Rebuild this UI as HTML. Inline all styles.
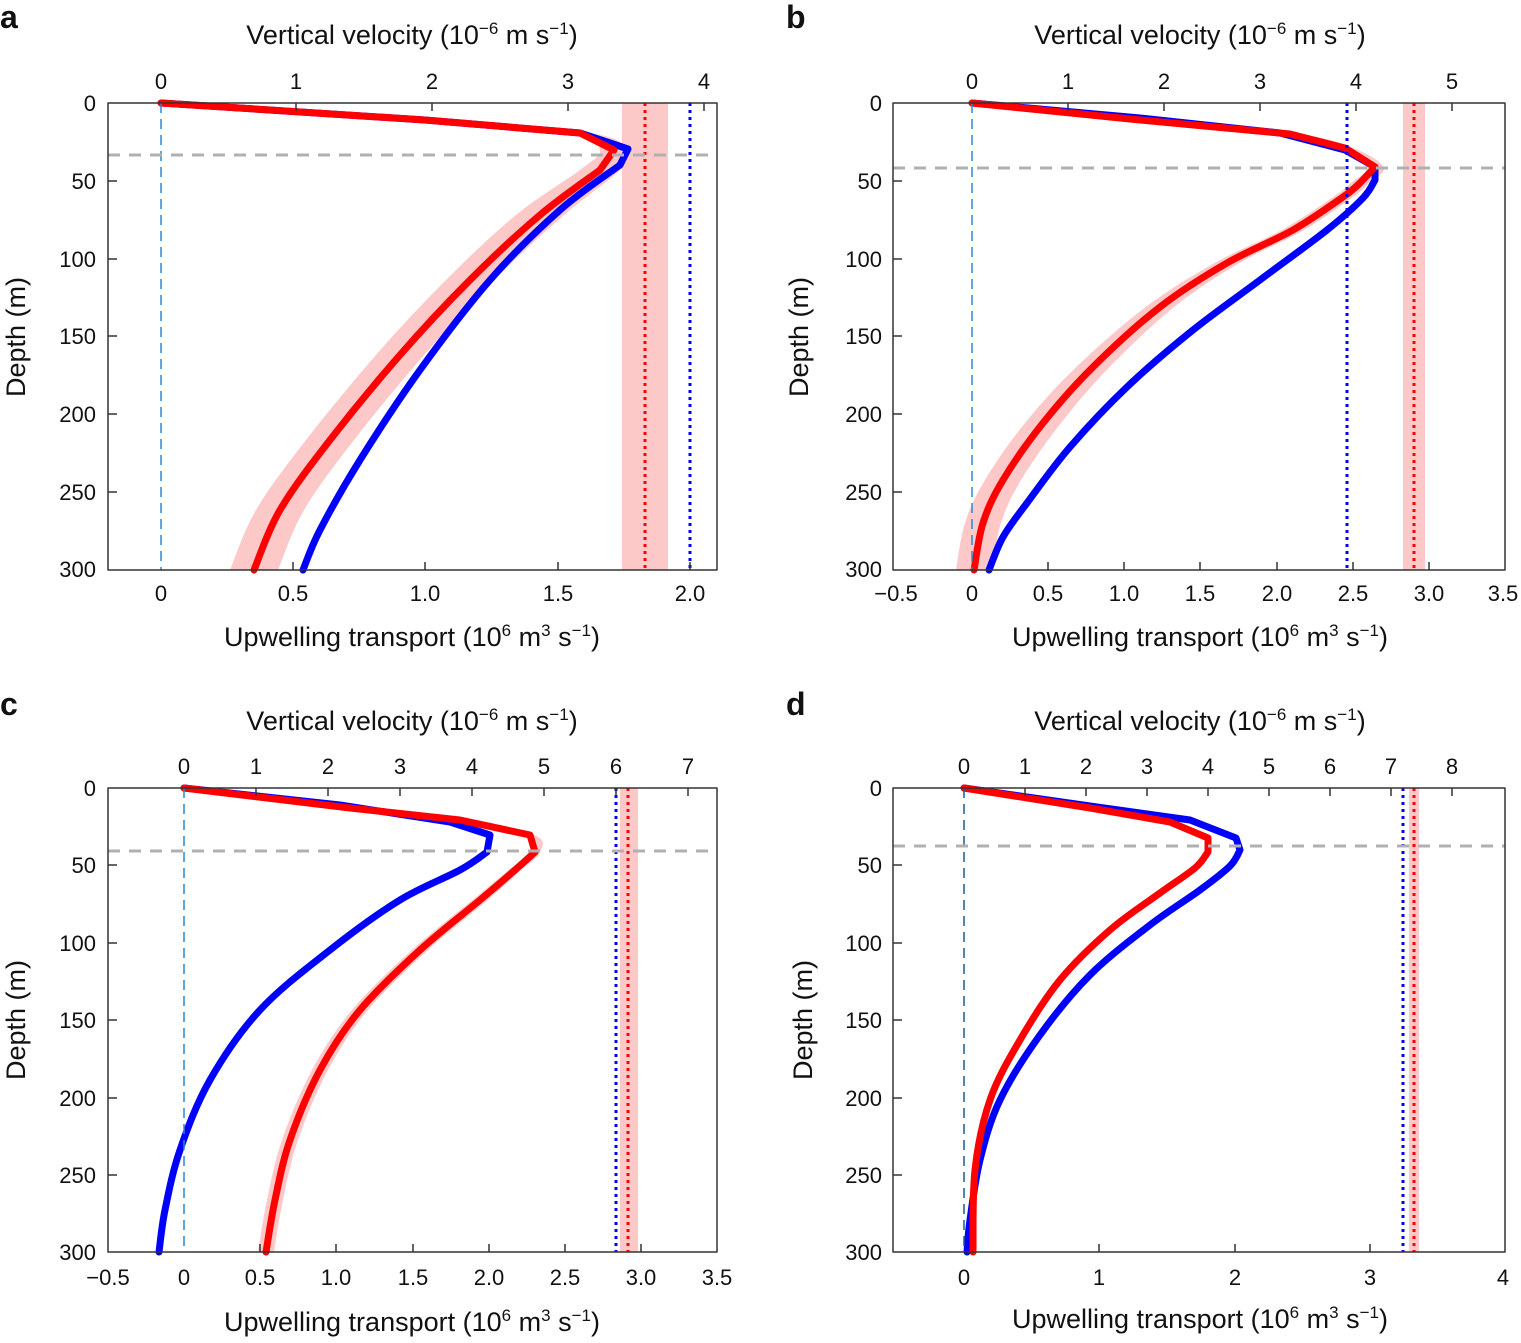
<!DOCTYPE html>
<html><head><meta charset="utf-8"><style>
body{margin:0;background:#fff}
svg text{font-family:"Liberation Sans",sans-serif;fill:#111}
.t{font-size:22px}.l{font-size:27px}.p{font-size:32px;font-weight:bold}
</style></head><body>
<svg id="s" width="1521" height="1338" viewBox="0 0 1521 1338" xmlns="http://www.w3.org/2000/svg">
<g fill="none" stroke-linejoin="round" stroke-linecap="round">
<rect x="622" y="103" width="46" height="467" fill="#fcc8c8" stroke="none"/>
<path id="bandA" fill="#fcc8c8" stroke="none"/>
<path id="blueA" stroke="#0000ff" stroke-width="7"/>
<path id="redA" stroke="#ff0000" stroke-width="7"/>
<line x1="161" y1="103" x2="161" y2="570" stroke="#2a8ad6" stroke-width="1.5" stroke-dasharray="10,6" stroke-linecap="butt"/>
<line x1="645" y1="103" x2="645" y2="570" stroke="#f00" stroke-width="3" stroke-dasharray="3,4" stroke-linecap="butt"/>
<line x1="690" y1="103" x2="690" y2="570" stroke="#00f" stroke-width="3" stroke-dasharray="3,4" stroke-linecap="butt"/>
<line x1="108" y1="155" x2="717" y2="155" stroke="#b0b0b0" stroke-width="3" stroke-dasharray="12,9" stroke-linecap="butt"/>
<rect x="108" y="103" width="609" height="467" stroke="#333" stroke-width="1.5"/>

<rect x="1403" y="103" width="22" height="467" fill="#fcc8c8" stroke="none"/>
<path id="bandB" fill="#fcc8c8" stroke="none"/>
<path id="blueB" stroke="#0000ff" stroke-width="7"/>
<path id="redB" stroke="#ff0000" stroke-width="7"/>
<line x1="972" y1="103" x2="972" y2="570" stroke="#2a8ad6" stroke-width="1.5" stroke-dasharray="10,6" stroke-linecap="butt"/>
<line x1="1414" y1="103" x2="1414" y2="570" stroke="#f00" stroke-width="3" stroke-dasharray="3,4" stroke-linecap="butt"/>
<line x1="1347" y1="103" x2="1347" y2="570" stroke="#00f" stroke-width="3" stroke-dasharray="3,4" stroke-linecap="butt"/>
<line x1="893" y1="168" x2="1505" y2="168" stroke="#b0b0b0" stroke-width="3" stroke-dasharray="12,9" stroke-linecap="butt"/>
<rect x="893" y="103" width="612" height="467" stroke="#333" stroke-width="1.5"/>

<rect x="620" y="788" width="18" height="464" fill="#fcc8c8" stroke="none"/>
<path id="bandC" fill="#fcc8c8" stroke="none"/>
<path id="blueC" stroke="#0000ff" stroke-width="7"/>
<path id="redC" stroke="#ff0000" stroke-width="7"/>
<line x1="184" y1="788" x2="184" y2="1252" stroke="#2a8ad6" stroke-width="1.5" stroke-dasharray="10,6" stroke-linecap="butt"/>
<line x1="628" y1="788" x2="628" y2="1252" stroke="#f00" stroke-width="3" stroke-dasharray="3,4" stroke-linecap="butt"/>
<line x1="616" y1="788" x2="616" y2="1252" stroke="#00f" stroke-width="3" stroke-dasharray="3,4" stroke-linecap="butt"/>
<line x1="108" y1="851" x2="717" y2="851" stroke="#b0b0b0" stroke-width="3" stroke-dasharray="12,9" stroke-linecap="butt"/>
<rect x="108" y="788" width="609" height="464" stroke="#333" stroke-width="1.5"/>

<rect x="1409" y="788" width="10" height="464" fill="#fcc8c8" stroke="none"/>
<path id="blueD" stroke="#0000ff" stroke-width="7"/>
<path id="redD" stroke="#ff0000" stroke-width="7"/>
<line x1="964" y1="788" x2="964" y2="1252" stroke="#1a5a9a" stroke-width="1.5" stroke-dasharray="10,6" stroke-linecap="butt"/>
<line x1="1414" y1="788" x2="1414" y2="1252" stroke="#f00" stroke-width="3" stroke-dasharray="3,4" stroke-linecap="butt"/>
<line x1="1403" y1="788" x2="1403" y2="1252" stroke="#00f" stroke-width="3" stroke-dasharray="3,4" stroke-linecap="butt"/>
<line x1="893" y1="846" x2="1505" y2="846" stroke="#b0b0b0" stroke-width="3" stroke-dasharray="12,9" stroke-linecap="butt"/>
<rect x="893" y="788" width="612" height="464" stroke="#333" stroke-width="1.5"/>
</g>
<g stroke="#333" stroke-width="1.5">
<path d="M108,181h9M108,259h9M108,336h9M108,414h9M108,492h9"/>
<path d="M893,181h9M893,259h9M893,336h9M893,414h9M893,492h9"/>
<path d="M108,865h9M108,943h9M108,1020h9M108,1098h9M108,1175h9"/>
<path d="M893,865h9M893,943h9M893,1020h9M893,1098h9M893,1175h9"/>
<path d="M296,103v8M432,103v8M568,103v8M704,103v8M293,570v-8M425,570v-8M558,570v-8M690,570v-8"/>
<path d="M1068,103v8M1164,103v8M1260,103v8M1356,103v8M1452,103v8M1048,570v-8M1124,570v-8M1200,570v-8M1277,570v-8M1353,570v-8M1429,570v-8"/>
<path d="M256,788v8M328,788v8M400,788v8M472,788v8M544,788v8M616,788v8M688,788v8M260,1252v-8M336,1252v-8M413,1252v-8M489,1252v-8M565,1252v-8M641,1252v-8"/>
<path d="M1025,788v8M1086,788v8M1147,788v8M1208,788v8M1269,788v8M1330,788v8M1391,788v8M1452,788v8M1099,1252v-8M1235,1252v-8M1370,1252v-8"/>
</g>
<g class="t" text-anchor="end">
<text x="96" y="111">0</text><text x="96" y="189">50</text><text x="96" y="267">100</text><text x="96" y="344">150</text><text x="96" y="422">200</text><text x="96" y="500">250</text><text x="96" y="577">300</text>
<text x="882" y="111">0</text><text x="882" y="189">50</text><text x="882" y="267">100</text><text x="882" y="344">150</text><text x="882" y="422">200</text><text x="882" y="500">250</text><text x="882" y="577">300</text>
<text x="96" y="796">0</text><text x="96" y="873">50</text><text x="96" y="951">100</text><text x="96" y="1028">150</text><text x="96" y="1106">200</text><text x="96" y="1183">250</text><text x="96" y="1260">300</text>
<text x="882" y="796">0</text><text x="882" y="873">50</text><text x="882" y="951">100</text><text x="882" y="1028">150</text><text x="882" y="1106">200</text><text x="882" y="1183">250</text><text x="882" y="1260">300</text>
</g>
<g class="t" text-anchor="middle">
<text x="161" y="89">0</text><text x="296" y="89">1</text><text x="432" y="89">2</text><text x="568" y="89">3</text><text x="704" y="89">4</text>
<text x="161" y="601">0</text><text x="293" y="601">0.5</text><text x="425" y="601">1.0</text><text x="558" y="601">1.5</text><text x="690" y="601">2.0</text>
<text x="972" y="89">0</text><text x="1068" y="89">1</text><text x="1164" y="89">2</text><text x="1260" y="89">3</text><text x="1356" y="89">4</text><text x="1452" y="89">5</text>
<text x="896" y="601">−0.5</text><text x="972" y="601">0</text><text x="1048" y="601">0.5</text><text x="1124" y="601">1.0</text><text x="1200" y="601">1.5</text><text x="1277" y="601">2.0</text><text x="1353" y="601">2.5</text><text x="1429" y="601">3.0</text><text x="1503" y="601">3.5</text>
<text x="184" y="774">0</text><text x="256" y="774">1</text><text x="328" y="774">2</text><text x="400" y="774">3</text><text x="472" y="774">4</text><text x="544" y="774">5</text><text x="616" y="774">6</text><text x="688" y="774">7</text>
<text x="108" y="1285">−0.5</text><text x="184" y="1285">0</text><text x="260" y="1285">0.5</text><text x="336" y="1285">1.0</text><text x="413" y="1285">1.5</text><text x="489" y="1285">2.0</text><text x="565" y="1285">2.5</text><text x="641" y="1285">3.0</text><text x="717" y="1285">3.5</text>
<text x="964" y="774">0</text><text x="1025" y="774">1</text><text x="1086" y="774">2</text><text x="1147" y="774">3</text><text x="1208" y="774">4</text><text x="1269" y="774">5</text><text x="1330" y="774">6</text><text x="1391" y="774">7</text><text x="1452" y="774">8</text>
<text x="964" y="1285">0</text><text x="1099" y="1285">1</text><text x="1235" y="1285">2</text><text x="1370" y="1285">3</text><text x="1503" y="1285">4</text>
</g>
<g class="l" text-anchor="middle">
<text x="412" y="44">Vertical velocity (10<tspan dy="-10" font-size="17">−6</tspan><tspan dy="10"> m s</tspan><tspan dy="-10" font-size="17">−1</tspan><tspan dy="10">)</tspan></text>
<text x="1200" y="44">Vertical velocity (10<tspan dy="-10" font-size="17">−6</tspan><tspan dy="10"> m s</tspan><tspan dy="-10" font-size="17">−1</tspan><tspan dy="10">)</tspan></text>
<text x="412" y="730">Vertical velocity (10<tspan dy="-10" font-size="17">−6</tspan><tspan dy="10"> m s</tspan><tspan dy="-10" font-size="17">−1</tspan><tspan dy="10">)</tspan></text>
<text x="1200" y="730">Vertical velocity (10<tspan dy="-10" font-size="17">−6</tspan><tspan dy="10"> m s</tspan><tspan dy="-10" font-size="17">−1</tspan><tspan dy="10">)</tspan></text>
<text x="412" y="646">Upwelling transport (10<tspan dy="-10" font-size="17">6</tspan><tspan dy="10"> m</tspan><tspan dy="-10" font-size="17">3</tspan><tspan dy="10"> s</tspan><tspan dy="-10" font-size="17">−1</tspan><tspan dy="10">)</tspan></text>
<text x="1200" y="646">Upwelling transport (10<tspan dy="-10" font-size="17">6</tspan><tspan dy="10"> m</tspan><tspan dy="-10" font-size="17">3</tspan><tspan dy="10"> s</tspan><tspan dy="-10" font-size="17">−1</tspan><tspan dy="10">)</tspan></text>
<text x="412" y="1331">Upwelling transport (10<tspan dy="-10" font-size="17">6</tspan><tspan dy="10"> m</tspan><tspan dy="-10" font-size="17">3</tspan><tspan dy="10"> s</tspan><tspan dy="-10" font-size="17">−1</tspan><tspan dy="10">)</tspan></text>
<text x="1200" y="1328">Upwelling transport (10<tspan dy="-10" font-size="17">6</tspan><tspan dy="10"> m</tspan><tspan dy="-10" font-size="17">3</tspan><tspan dy="10"> s</tspan><tspan dy="-10" font-size="17">−1</tspan><tspan dy="10">)</tspan></text>
<text transform="translate(25,337) rotate(-90)">Depth (m)</text>
<text transform="translate(808,337) rotate(-90)">Depth (m)</text>
<text transform="translate(25,1020) rotate(-90)">Depth (m)</text>
<text transform="translate(812,1020) rotate(-90)">Depth (m)</text>
</g>
<text class="p" x="0" y="28">a</text>
<text class="p" x="786" y="28">b</text>
<text class="p" x="0" y="715">c</text>
<text class="p" x="786" y="715">d</text>
</svg>
<script>
function cr(p){var d="M"+p[0][0]+","+p[0][1];for(var i=0;i<p.length-1;i++){var a=p[Math.max(0,i-1)],b=p[i],c=p[i+1],e=p[Math.min(p.length-1,i+2)];var t=0.5/3;d+=" C"+(b[0]+(c[0]-a[0])*t).toFixed(1)+","+(b[1]+(c[1]-a[1])*t).toFixed(1)+" "+(c[0]-(e[0]-b[0])*t).toFixed(1)+","+(c[1]-(e[1]-b[1])*t).toFixed(1)+" "+c[0]+","+c[1];}return d;}
function lin(p){return "M"+p.map(function(q){return q.join(",")}).join(" L");}
function sm(pts,k){var head=pts.slice(0,k+1),tail=pts.slice(k);return lin(head)+" "+cr(tail).replace(/^M[^ ]+/,"");}
function band(p,f){var L=[],R=[];for(var i=0;i<p.length;i++){var w=f(p[i][1]);L.push([p[i][0]-w,p[i][1]]);R.push([p[i][0]+w,p[i][1]]);}return sm(L,0)+" L"+sm(R.reverse(),0).slice(1)+"Z";}
function set(id,d){document.getElementById(id).setAttribute("d",d);}
var rA=[[161,103],[425,120],[580,133],[614,150],[600,170],[540,215],[470,280],[400,355],[330,440],[280,510],[254,570]];
var bA=[[161,103],[425,120],[580,133],[628,149],[620,165],[560,210],[490,280],[420,370],[360,460],[320,530],[303,570]];
var rB=[[972,103],[1140,120],[1290,134],[1345,148],[1375,167],[1360,183],[1343,197],[1293,230],[1227,263],[1160,307],[1093,367],[1043,423],[1003,480],[983,523],[974,570]];
var bB=[[972,103],[1140,118],[1280,133],[1345,150],[1375,167],[1375,180],[1363,198],[1327,230],[1260,280],[1193,330],[1127,387],[1070,447],[1027,503],[1003,537],[989,570]];
var rC=[[184,788],[350,808],[460,820],[530,835],[535,852],[515,870],[480,900],[420,950],[360,1010],[320,1070],[290,1140],[275,1200],[266,1252]];
var bC=[[184,788],[340,805],[450,822],[490,835],[487,852],[460,870],[400,900],[330,950],[260,1010],[210,1080],[180,1150],[165,1210],[159,1252]];
var bD=[[964,788],[1090,806],[1190,820],[1236,838],[1240,850],[1230,866],[1200,890],[1150,925],[1090,975],[1040,1035],[1000,1100],[980,1160],[970,1220],[967,1252]];
var rD=[[964,788],[1090,808],[1170,822],[1208,838],[1208,852],[1195,868],[1160,893],[1110,930],[1060,980],[1020,1040],[990,1100],[975,1170],[973,1252]];
set("redA",sm(rA,4));set("blueA",sm(bA,4));
set("redB",sm(rB,5));set("blueB",sm(bB,5));
set("redC",sm(rC,4));set("blueC",sm(bC,4));
set("redD",sm(rD,4));set("blueD",sm(bD,4));
set("bandA",band(rA,function(y){return Math.min(24,Math.max(2,(y-103)*0.3));}));
set("bandB",band(rB,function(y){return Math.min(18,Math.max(3,(y-103)*0.04+6));}));
set("bandC",band(rC,function(y){return Math.min(8,Math.max(2,(y-788)*0.05+2));}));
</script>
</body></html>
